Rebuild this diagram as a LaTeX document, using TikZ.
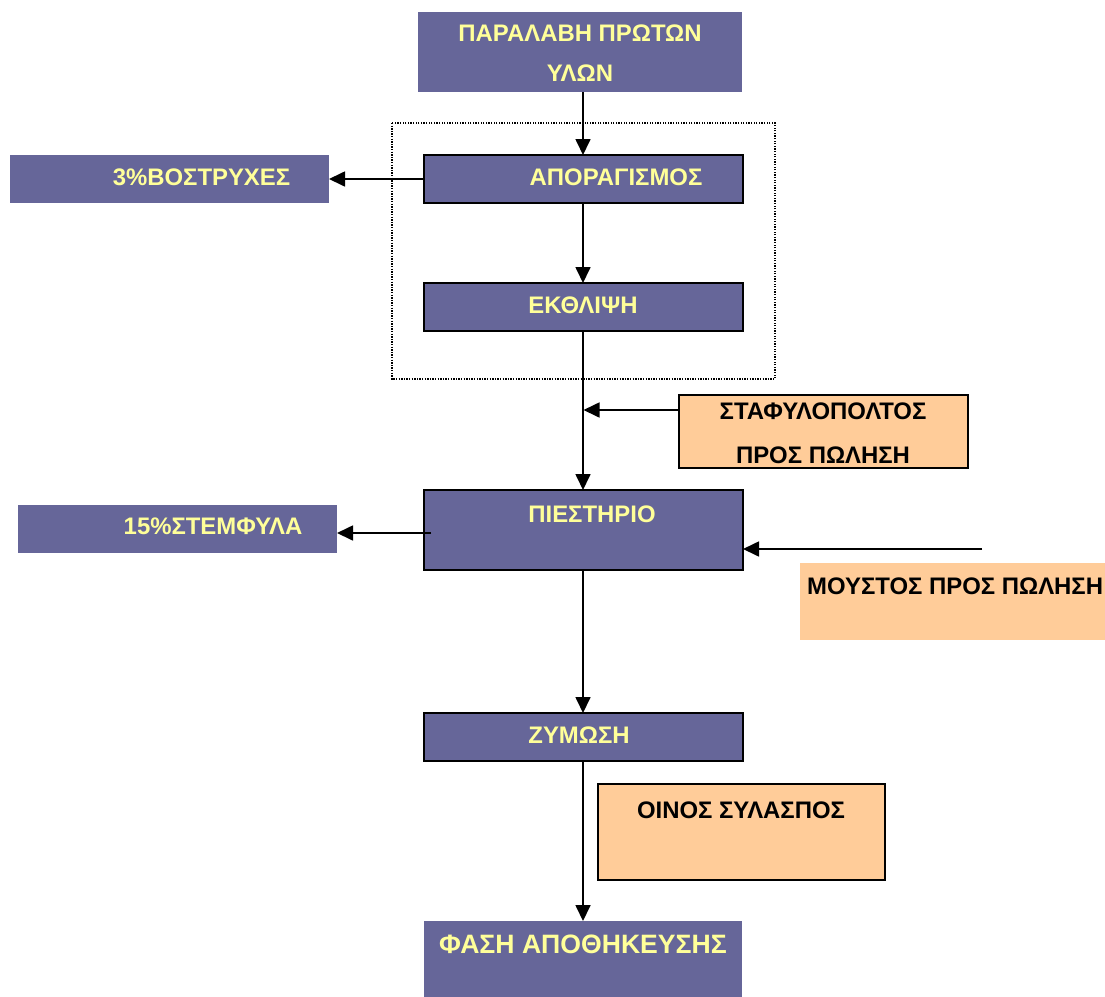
\documentclass[tikz,border=0pt]{standalone}
\usepackage{fontspec}
\setmainfont{Liberation Sans}
\usetikzlibrary{arrows.meta}
\definecolor{procfill}{HTML}{666699}
\definecolor{proctext}{HTML}{FFFF99}
\definecolor{outfill}{HTML}{FFCC99}
\tikzset{
  box/.style={anchor=north west, inner sep=0pt, outer sep=0pt, line width=1.6pt},
  proc/.style={box, fill=procfill},
  procb/.style={proc, draw=black},
  outb/.style={box, fill=outfill},
  outbd/.style={outb, draw=black},
  ylbl/.style={anchor=base, inner sep=0pt, text=proctext, font=\bfseries\fontsize{23.9}{28}\selectfont},
  blbl/.style={anchor=base, inner sep=0pt, text=black, font=\bfseries\fontsize{23.9}{28}\selectfont},
  arr/.style={line width=1.7pt, -{Triangle[length=16pt,width=15pt]}},
  group/.style={draw=black, line width=1.3pt, dash pattern=on 1.3pt off 1.3pt}
}
\begin{document}
\begin{tikzpicture}[x=1pt, y=-1pt]
\useasboundingbox (0,0) rectangle (1105,996);

% grouping frame around the de-stemming and crushing stages
\draw[group] (392,123) rectangle (775,379);

% main process boxes
\node[proc,  minimum width=324pt, minimum height=80pt] (recv)  at (418,12)  {};
\node[procb, minimum width=319pt, minimum height=48pt] (apor)  at (424,155) {};
\node[procb, minimum width=319pt, minimum height=48pt] (ekth)  at (424,283) {};
\node[procb, minimum width=319pt, minimum height=80pt] (piest) at (424,490) {};
\node[procb, minimum width=319pt, minimum height=48pt] (zym)   at (424,713) {};
\node[proc,  minimum width=318pt, minimum height=80pt] (store) at (424,921) {};

% by-products
\node[proc, minimum width=319pt, minimum height=48pt] (bost) at (10,155) {};
\node[proc, minimum width=319pt, minimum height=48pt] (stem) at (18,505) {};

% products for sale
\node[outbd, minimum width=289pt, minimum height=73pt] (staf)  at (679,395) {};
\node[outb,  minimum width=310pt, minimum height=77pt] (moust) at (800,563) {};
\node[outbd, minimum width=287pt, minimum height=96pt] (oinos) at (598,784) {};

% labels
\node[ylbl] (t-recv1) at (580,41.5) {ΠΑΡΑΛΑΒΗ ΠΡΩΤΩΝ};
\node[ylbl] (t-recv2) at (580,81.5) {ΥΛΩΝ};
\node[ylbl] (t-apor)  at (616,185) {ΑΠΟΡΑΓΙΣΜΟΣ};
\node[ylbl] (t-bost)  at (201.5,185) {3\%ΒΟΣΤΡΥΧΕΣ};
\node[ylbl] (t-ekth)  at (583,313) {ΕΚΘΛΙΨΗ};
\node[blbl] (t-staf1) at (823,419) {ΣΤΑΦΥΛΟΠΟΛΤΟΣ};
\node[blbl] (t-staf2) at (823,463) {ΠΡΟΣ ΠΩΛΗΣΗ};
\node[ylbl] (t-piest) at (592,522) {ΠΙΕΣΤΗΡΙΟ};
\node[ylbl] (t-stem)  at (213,534) {15\%ΣΤΕΜΦΥΛΑ};
\node[blbl, anchor=base west] (t-moust) at (807,594) {ΜΟΥΣΤΟΣ ΠΡΟΣ ΠΩΛΗΣΗ};
\node[ylbl] (t-zym)   at (579,743) {ΖΥΜΩΣΗ};
\node[blbl] (t-oinos) at (741,818) {ΟΙΝΟΣ ΣΥΛΑΣΠΟΣ};
\node[ylbl, font=\bfseries\fontsize{26.6}{30}\selectfont] (t-store) at (583,953) {ΦΑΣΗ ΑΠΟΘΗΚΕΥΣΗΣ};

% connectors
\coordinate (stafout) at (679,410);
\coordinate (stemout) at (431,533);
\coordinate (moustin) at (982,549);

\draw[arr] (recv.south -| 583,0) -- (apor.north -| 583,0);
\draw[arr] (apor.west) -- (bost.east);
\draw[arr] (apor.south -| 583,0) -- (ekth.north -| 583,0);
\draw[arr] (ekth.south -| 583,0) -- (piest.north -| 583,0);
\draw[arr] (stafout) -- (stafout -| ekth.south);
\draw[arr] (stemout) -- (stemout -| stem.east);
\draw[arr] (moustin) -- (moustin -| piest.east);
\draw[arr] (piest.south -| 583,0) -- (zym.north -| 583,0);
\draw[arr] (zym.south -| 583,0) -- (store.north -| 583,0);
\end{tikzpicture}
\end{document}
